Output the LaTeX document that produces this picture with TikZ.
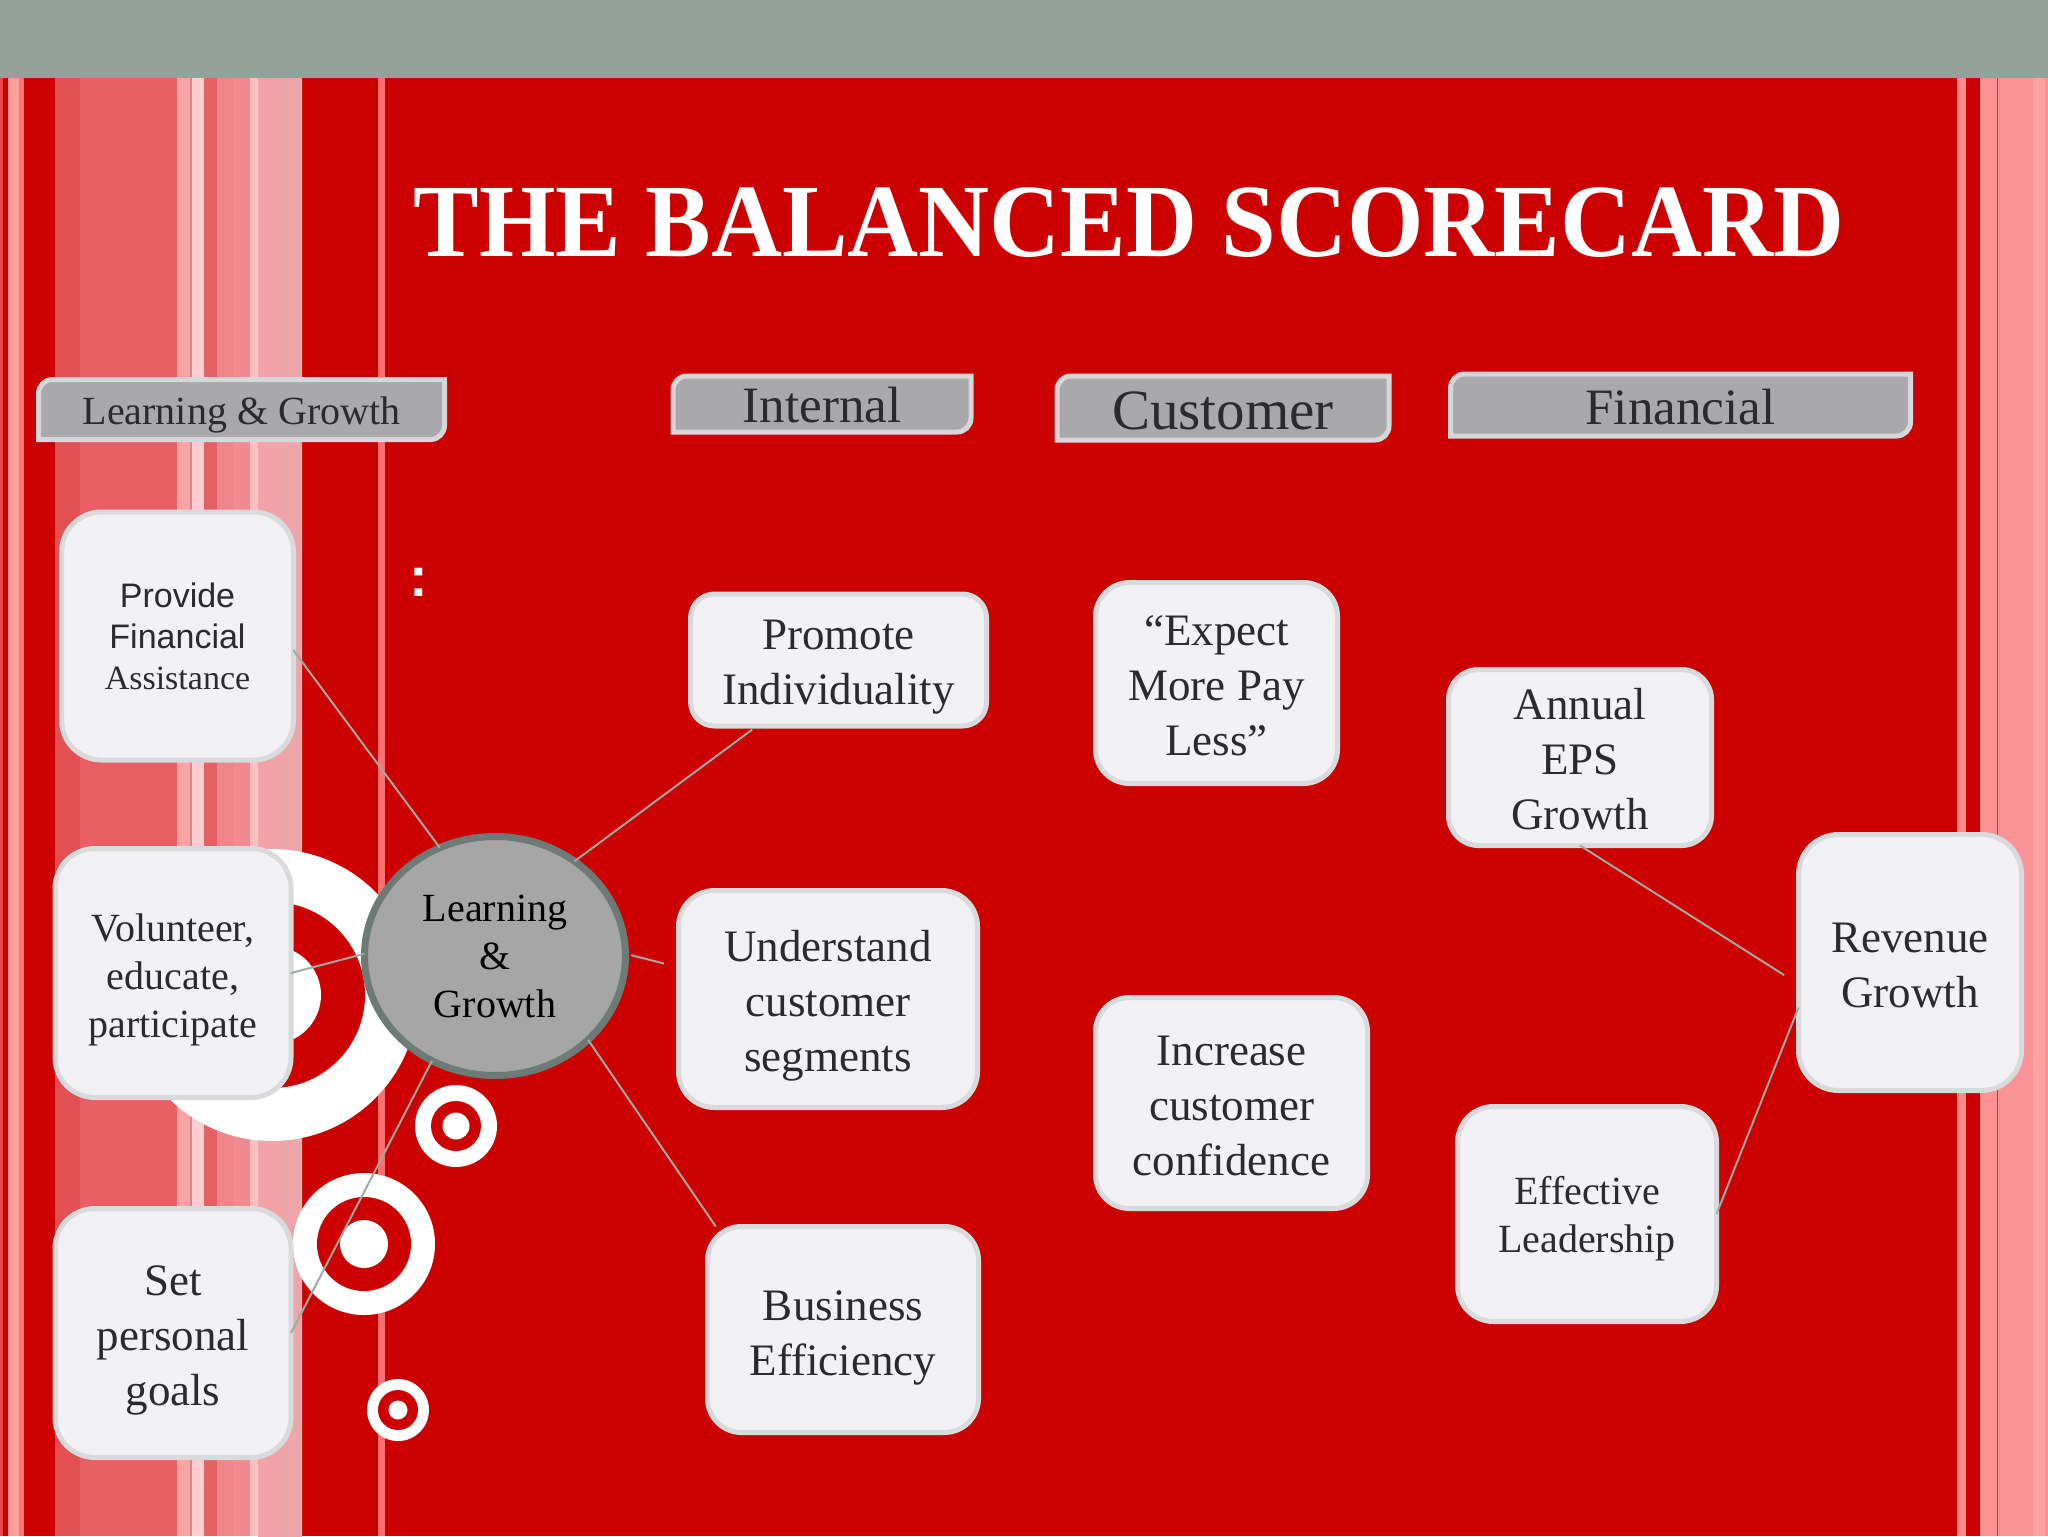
\documentclass[tikz,border=0pt]{standalone}
\usepackage{fontspec}
\setmainfont{Liberation Serif}
\setsansfont{Liberation Sans}
\newfontfamily\titlefont[FakeStretch=0.945]{Liberation Serif}
\definecolor{bgred}{HTML}{CC0000}
\definecolor{topbar}{HTML}{93A29B}
\definecolor{cardfill}{HTML}{F2F2F4}
\definecolor{cardedge}{HTML}{D8DADB}
\definecolor{hdrfill}{HTML}{A9A9AB}
\definecolor{hdredge}{HTML}{D6D7D8}
\definecolor{hubfill}{HTML}{A6A6A6}
\definecolor{hubedge}{HTML}{6E7A75}
\definecolor{wire}{HTML}{A2A9A2}
\definecolor{inktext}{HTML}{2B2B2D}
\definecolor{shadeA}{HTML}{F5A0A6}
\definecolor{shadeB}{HTML}{E9A8AA}
\newcommand{\stripe}[3]{\definecolor{stripetmp}{HTML}{#3}\fill[stripetmp] (#1,78) rectangle (#2,1536);}
\newcommand{\target}[5]{%
  \fill[white] (#1,#2) circle[radius=#3pt];
  \fill[bgred] (#1,#2) circle[radius=#4pt];
  \fill[white] (#1,#2) circle[radius=#5pt];}
\newcommand{\hdrbox}[8]{% name, cx, cy, w(pt), h(pt), fontsize, text shift(pt), text
  \node[hdrnode, minimum width=#4pt, minimum height=#5pt] (#1) at (#2,#3) {};
  \draw[hdrline] (#1.south west) -- ([yshift=-7pt]#1.north west)
     arc[start angle=180,end angle=90,radius=7pt] -- (#1.north east)
     -- ([yshift=7pt]#1.south east) arc[start angle=0,end angle=-90,radius=7pt] -- cycle;
  \node[font=\fontsize{#6}{#6}\selectfont, text=inktext] (#1t) at ([yshift=-#7pt]#1.center) {#8};}
\newcommand{\card}[9]{% name, cx, cy, w(pt), h(pt), radius(pt), font style, text shift(pt), text
  \node[cardbox=#6pt,minimum width=#4pt,minimum height=#5pt] (#1) at (#2,#3) {};
  \node[cardtext,#7] (#1t) at ([yshift=-#8pt]#1.center) {#9};}
\tikzset{
  x=0.5pt,y=-0.5pt,
  hdrnode/.style={inner sep=0pt,outer sep=0pt},
  hdrline/.style={draw=hdredge,fill=hdrfill,line width=2.5pt},
  cardbox/.style={draw=cardedge,fill=cardfill,line width=2.5pt,rounded corners=#1,
    inner sep=0pt,outer sep=0pt},
  cardtext/.style={inner sep=0pt,align=center,text=inktext},
  bigtext/.style={font=\fontsize{22.5}{27.5}\selectfont},
  midtext/.style={font=\fontsize{20}{24}\selectfont},
  smalltext/.style={font=\fontsize{17}{20.5}\selectfont},
  link/.style={draw=wire,line width=1pt},
  hub/.style={ellipse,draw=hubedge,fill=hubfill,line width=3.5pt,inner sep=0pt,outer sep=0pt,
    align=center,text=black,font=\fontsize{20}{24}\selectfont},
}
\usetikzlibrary{shapes.geometric}
\begin{document}
\begin{tikzpicture}
\useasboundingbox (0,0) rectangle (2048,1536);
\fill[bgred] (0,0) rectangle (2048,1536);
% left stripes
\stripe{0}{3}{E84A4A}
\stripe{8}{9}{FF9090}
\stripe{9}{19}{FFA0A0}
\stripe{19}{24}{FF7272}
\stripe{55}{80}{E25054}
\stripe{80}{177}{E95F64}
\stripe{177}{190}{FFA2A2}
\stripe{190}{192}{D08A8A}
\stripe{192}{204}{FFCDD0}
\stripe{204}{217}{E26265}
\stripe{217}{233}{EE8688}
\stripe{233}{250}{F08C8E}
\stripe{250}{258}{FFC0C2}
\fill[left color=shadeA,right color=shadeB] (258,78) rectangle (302,1536);
\stripe{378}{385}{FF7070}
% right stripes
\stripe{1957}{1966}{FF8A8A}
\stripe{1980}{1997}{FF9292}
\stripe{1997}{1998}{B04050}
\stripe{1998}{2033}{F99396}
\stripe{2033}{2045}{FFA2A2}
\stripe{2045}{2048}{F99396}
% top bar
\fill[topbar] (0,0) rectangle (2048,78);
% targets
\target{272}{995}{73}{46.5}{24.5}
\target{456}{1126}{20.5}{12.5}{6.75}
\target{364}{1244}{35.5}{23.5}{12}
\target{398}{1410}{15.5}{10}{4.75}
% title
\node[anchor=base,text=white,font=\fontsize{52}{52}\titlefont\bfseries] (title) at (1129,256) {THE BALANCED SCORECARD};
\node[text=white,font=\fontsize{28}{28}\selectfont\sffamily\bfseries] (dots) at (419,582) {:};
% headers
\hdrbox{hlg}{241.5}{409.5}{203}{30}{20}{2.5}{Learning \& Growth}
\hdrbox{hint}{822}{404}{149}{28}{25.5}{0.75}{Internal}
\hdrbox{hcus}{1223}{408}{166}{32}{28.5}{1.25}{Customer}
\hdrbox{hfin}{1680.5}{405}{230}{31}{25.5}{1.25}{Financial}
% cards
\card{prov}{177.5}{636}{116}{124}{20}{smalltext}{0}{{\sffamily Provide}\\{\sffamily Financial}\\Assistance}
\card{vol}{173}{973}{118}{124.5}{20}{midtext}{3.25}{Volunteer,\\educate,\\participate}
\card{setg}{173}{1333}{118}{124.5}{20}{bigtext}{3.5}{Set\\personal\\goals}
\card{prom}{838.5}{660}{148}{66}{12}{bigtext}{3.5}{Promote\\Individuality}
\card{unde}{828}{999}{149.5}{108.5}{18}{bigtext}{3.25}{Understand\\customer\\segments}
\card{busi}{843}{1329.5}{135.5}{103}{17}{bigtext}{4}{Business\\Efficiency}
\card{expe}{1216.5}{683}{121}{100.5}{17}{bigtext}{1.5}{“Expect\\More Pay\\Less”}
\card{incr}{1231.5}{1103}{136}{105.5}{17}{bigtext}{1.5}{Increase\\customer\\confidence}
\card{annu}{1580}{757.5}{131.5}{88}{15}{bigtext}{1}{Annual\\EPS\\Growth}
\card{effe}{1587}{1214}{129.5}{107.5}{18}{midtext}{2.5}{Effective\\Leadership}
\card{reve}{1910}{962.5}{111.5}{128}{20}{bigtext}{1.5}{Revenue\\Growth}
% hub
\node[hub,minimum width=130.5pt,minimum height=119.5pt] (core) at (495,956) {Learning\\\&\\Growth};
% connectors
\draw[link] (prov.-7) -- (core.117);
\draw[link,shorten >=3pt] (core.50.7) -- (prom.219.8);
\draw[link,shorten <=3pt,shorten >=7.5pt] (core.1.5) -- (unde.168);
\draw[link] (core.-42.8) -- (busi.141.5);
\draw[link] (vol.east) -- (core.179);
\draw[link] (setg.east) -- (core.239);
\draw[link,shorten >=8.5pt] (annu.south) -- (reve.191);
\draw[link] (effe.east) -- (reve.202.6);
\end{tikzpicture}
\end{document}
